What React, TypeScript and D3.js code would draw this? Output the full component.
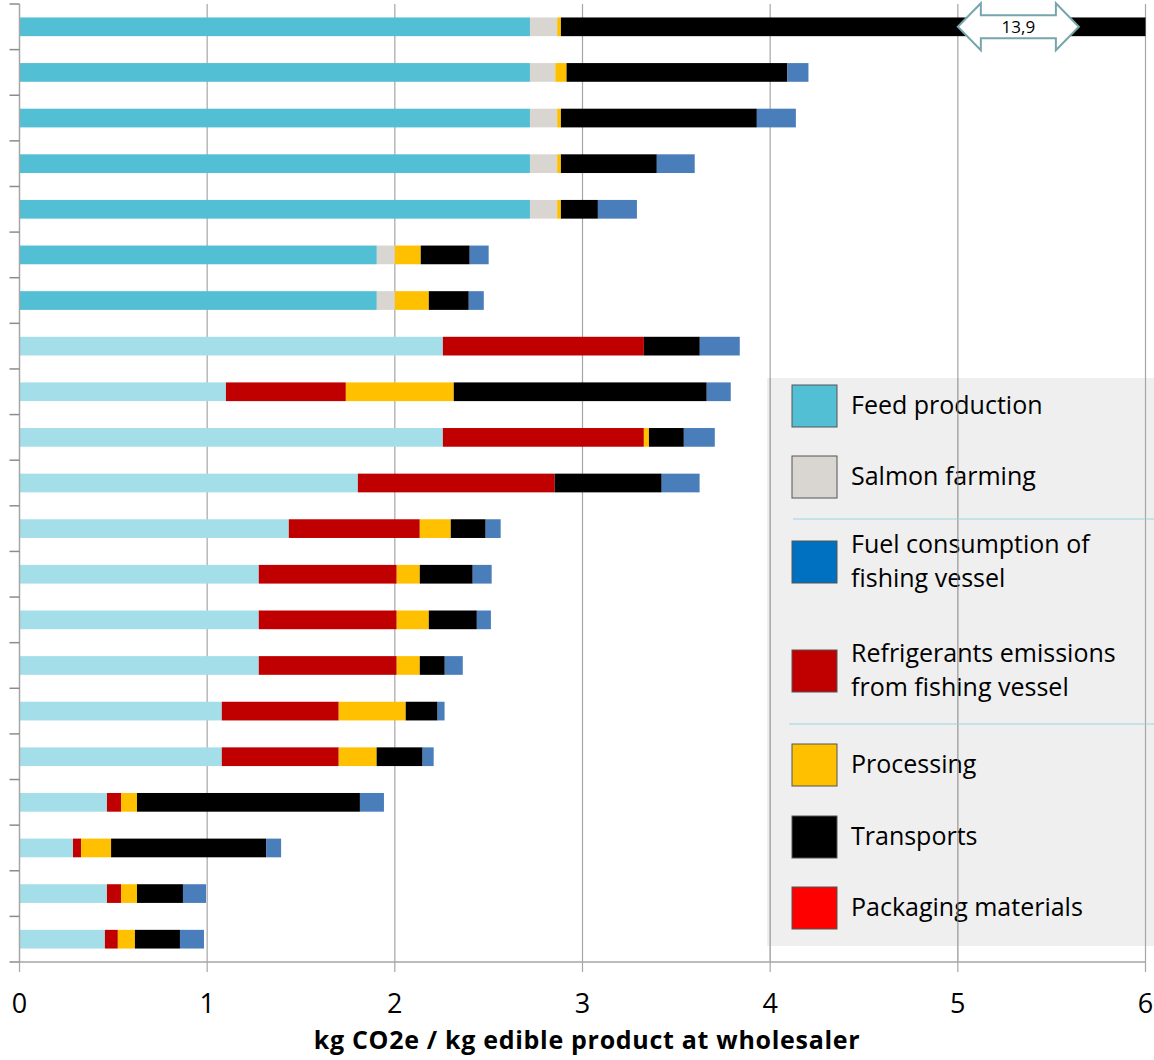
import React from "react";
import * as d3 from "d3";

// one row per product, top to bottom (no labels shown on the axis)
const categories = ["1", "2", "3", "4", "5", "6", "7", "8", "9", "10", "11", "12", "13", "14", "15", "16", "17", "18", "19", "20", "21"];

const feed = [2.72, 2.72, 2.72, 2.72, 2.72, 1.904, 1.904, 0, 0, 0, 0, 0, 0, 0, 0, 0, 0, 0, 0, 0, 0];
const salmon = [0.145, 0.135, 0.145, 0.145, 0.145, 0.096, 0.096, 0, 0, 0, 0, 0, 0, 0, 0, 0, 0, 0, 0, 0, 0];
const fuel = [0, 0, 0, 0, 0, 0, 0, 2.256, 1.1, 2.256, 1.803, 1.435, 1.275, 1.275, 1.275, 1.078, 1.078, 0.466, 0.285, 0.466, 0.455];
const refrigerants = [0, 0, 0, 0, 0, 0, 0, 1.071, 0.639, 1.071, 1.049, 0.698, 0.735, 0.735, 0.735, 0.623, 0.623, 0.075, 0.043, 0.075, 0.069];
const processing = [0.02, 0.06, 0.02, 0.02, 0.02, 0.138, 0.181, 0, 0.575, 0.027, 0, 0.165, 0.123, 0.171, 0.123, 0.357, 0.202, 0.085, 0.16, 0.085, 0.091];
const transports = [11.015, 1.177, 1.044, 0.511, 0.197, 0.261, 0.213, 0.298, 1.348, 0.186, 0.57, 0.186, 0.282, 0.256, 0.133, 0.17, 0.245, 1.188, 0.826, 0.245, 0.24];
const packaging = [0, 0.112, 0.208, 0.202, 0.208, 0.101, 0.08, 0.213, 0.128, 0.165, 0.202, 0.08, 0.101, 0.075, 0.096, 0.037, 0.059, 0.128, 0.08, 0.123, 0.128];

const keys = ["feed", "salmon", "fuel", "refrigerants", "processing", "transports", "packaging"];
const barColors = ["#52bfd4", "#d9d6d1", "#a4dfe9", "#c00000", "#ffc000", "#000000", "#4a7ebb"];

const legendLabels = [
    ["Feed production"],
    ["Salmon farming"],
    ["Fuel consumption of", "fishing vessel"],
    ["Refrigerants emissions", "from fishing vessel"],
    ["Processing"],
    ["Transports"],
    ["Packaging materials"],
];
const legendColors = ["#52bfd4", "#d9d6d2", "#0070c0", "#c00000", "#ffc000", "#000000", "#ff0000"];
const legendTops = [385, 456, 541, 650, 744, 816, 887];

const xTicks = [0, 1, 2, 3, 4, 5, 6];
const overflowLabel = "13,9";

const W = 1154;
const H = 1060;
const FONT = "'Open Sans', 'DejaVu Sans', sans-serif";

export default function App() {
    const x = d3.scaleLinear().domain([0, 6]).range([19.5, 1145.5]);
    const y = d3.scaleBand<string>().domain(categories).range([4, 962]).paddingInner(0.59).paddingOuter(0.295);

    const rows = categories.map((c, i) => ({
        cat: c,
        feed: feed[i],
        salmon: salmon[i],
        fuel: fuel[i],
        refrigerants: refrigerants[i],
        processing: processing[i],
        transports: transports[i],
        packaging: packaging[i],
    }));
    const stacked = d3.stack<any>().keys(keys)(rows);

    const step = y.step();
    const top = y.range()[0];
    const bottom = y.range()[1];
    const boundaries = d3.range(categories.length + 1).map((i) => top + i * step);

    // annotation arrow on the truncated first bar
    const ay = (y(categories[0]) as number) + y.bandwidth() / 2;
    const ax0 = x(5);
    const ax1 = x(5.645);
    const head = 23;
    const arrowPts = [
        [ax0, ay],
        [ax0 + head, ay - 23.5],
        [ax0 + head, ay - 11.5],
        [ax1 - head, ay - 11.5],
        [ax1 - head, ay - 23.5],
        [ax1, ay],
        [ax1 - head, ay + 23.5],
        [ax1 - head, ay + 11.5],
        [ax0 + head, ay + 11.5],
        [ax0 + head, ay + 23.5],
    ]
        .map((p) => p.join(","))
        .join(" ");

    const gridColor = "#a6a6a6";

    return (
        <svg width={W} height={H} style={{ position: "absolute", left: 0, top: 0, background: "#fff" }} fontFamily={FONT}>
            <defs>
                <clipPath id="plot">
                    <rect x={x(0)} y={0} width={x(6) - x(0)} height={bottom} />
                </clipPath>
            </defs>

            {/* legend background */}
            <rect x={767} y={378} width={W - 767} height={568} fill="#efefef" />

            {/* gridlines */}
            {xTicks.slice(1).map((t) => (
                <line key={t} x1={x(t)} x2={x(t)} y1={top} y2={bottom} stroke={gridColor} strokeWidth={1.2} />
            ))}

            {/* bars */}
            <g clipPath="url(#plot)">
                {stacked.map((s, si) => (
                    <g key={s.key} fill={barColors[si]}>
                        {s.map((d, i) =>
                            d[1] - d[0] > 0 ? (
                                <rect
                                    key={i}
                                    x={x(d[0])}
                                    y={y(categories[i])}
                                    width={x(d[1]) - x(d[0])}
                                    height={y.bandwidth()}
                                />
                            ) : null
                        )}
                    </g>
                ))}
            </g>

            {/* y axis */}
            <line x1={x(0)} x2={x(0)} y1={top} y2={bottom} stroke={gridColor} strokeWidth={1.5} />
            {boundaries.map((b, i) => (
                <line key={i} x1={x(0) - 10} x2={x(0)} y1={b} y2={b} stroke="#8c8c8c" strokeWidth={1.5} />
            ))}

            {/* x axis */}
            <line x1={x(0)} x2={x(6)} y1={bottom} y2={bottom} stroke={gridColor} strokeWidth={1.5} />
            {xTicks.map((t) => (
                <g key={t}>
                    <line x1={x(t)} x2={x(t)} y1={bottom} y2={bottom + 10} stroke={gridColor} strokeWidth={1.2} />
                    <text x={x(t)} y={1013} textAnchor="middle" fontSize={27} fill="#000">
                        {t}
                    </text>
                </g>
            ))}
            <text x={587} y={1049} textAnchor="middle" fontSize={25} fontWeight="bold" letterSpacing={0.7} fill="#000">
                kg CO2e / kg edible product at wholesaler
            </text>

            {/* arrow annotation */}
            <polygon points={arrowPts} fill="#fff" stroke="#76a5ad" strokeWidth={2} />
            <text x={(ax0 + ax1) / 2} y={ay + 6} textAnchor="middle" fontSize={17} fill="#000">
                {overflowLabel}
            </text>

            {/* legend */}
            <line x1={793} x2={W} y1={519} y2={519} stroke="#b7dde8" strokeWidth={1.5} />
            <line x1={789} x2={W} y1={724} y2={724} stroke="#b7dde8" strokeWidth={1.5} />
            {legendLabels.map((lines, i) => {
                const t = legendTops[i];
                const c = t + 21;
                return (
                    <g key={i}>
                        <rect x={792} y={t} width={45} height={42} fill={legendColors[i]} stroke="#555" strokeWidth={1} />
                        {lines.map((ln, j) => (
                            <text
                                key={j}
                                x={851}
                                y={lines.length === 1 ? c + 8 : c - 9.5 + j * 34.5}
                                fontSize={25}
                                fill="#000"
                            >
                                {ln}
                            </text>
                        ))}
                    </g>
                );
            })}
            {/* gridlines show through the legend panel */}
            {[4, 5, 6].map((t) => (
                <line key={"g" + t} x1={x(t)} x2={x(t)} y1={378} y2={bottom} stroke={gridColor} strokeWidth={1} opacity={0.8} />
            ))}
        </svg>
    );
}
